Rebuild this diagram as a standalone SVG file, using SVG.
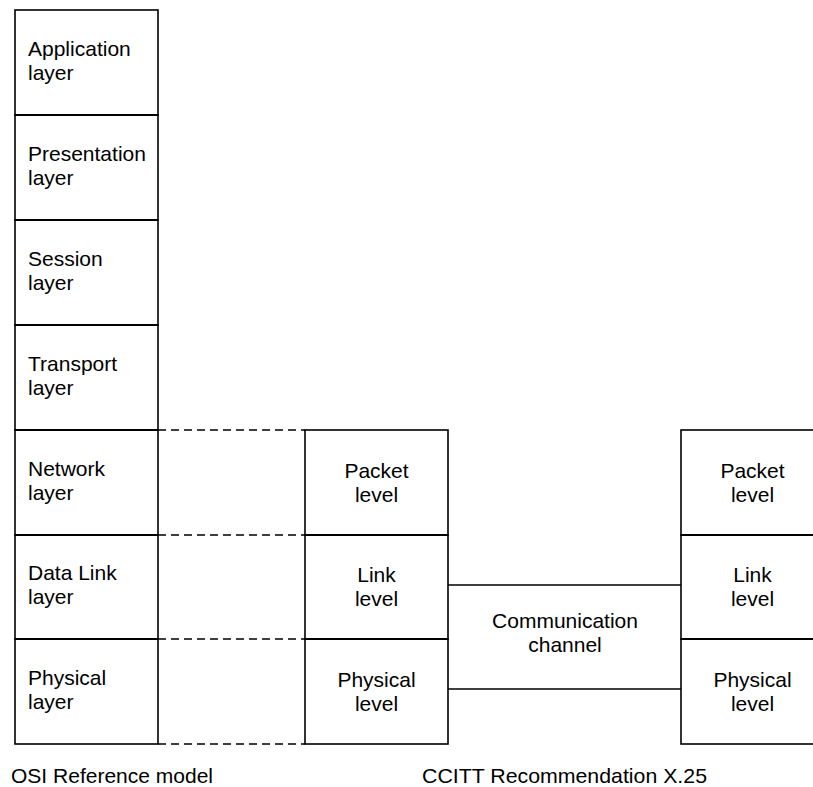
<svg xmlns="http://www.w3.org/2000/svg" width="813" height="787" viewBox="0 0 813 787">
  <style>
    .box { fill: #ffffff; stroke: #000000; stroke-width: 1.6; }
    .div { stroke: #000000; stroke-width: 2; }
    .dash { stroke: #000000; stroke-width: 1.6; stroke-dasharray: 8 5; fill: none; }
    .wire { stroke: #000000; stroke-width: 1.4; fill: none; }
    text { font-family: "Liberation Sans", Arial, sans-serif; font-size: 21px; fill: #000000; }
    .c { text-anchor: middle; }
  </style>
  <rect width="813" height="787" fill="#ffffff"/>

  <!-- connectors: dashed level mapping and channel lines -->
  <g id="connectors">
    <line class="dash" x1="158" y1="430" x2="305" y2="430"/>
    <line class="dash" x1="158" y1="535" x2="305" y2="535"/>
    <line class="dash" x1="158" y1="639" x2="305" y2="639"/>
    <line class="dash" x1="158" y1="744" x2="305" y2="744"/>
    <line class="wire" x1="448" y1="585" x2="681" y2="585"/>
    <line class="wire" x1="448" y1="689" x2="681" y2="689"/>
  </g>

  <!-- OSI reference model stack -->
  <g id="osi-application"><rect class="box" x="15" y="10" width="143" height="105"/>
    <text x="28" y="55.5">Application</text><text x="28" y="79.5">layer</text></g>
  <g id="osi-presentation"><rect class="box" x="15" y="115" width="143" height="105"/>
    <text x="28" y="160.5">Presentation</text><text x="28" y="184.5">layer</text></g>
  <g id="osi-session"><rect class="box" x="15" y="220" width="143" height="105"/>
    <text x="28" y="265.5">Session</text><text x="28" y="289.5">layer</text></g>
  <g id="osi-transport"><rect class="box" x="15" y="325" width="143" height="105"/>
    <text x="28" y="370.5">Transport</text><text x="28" y="394.5">layer</text></g>
  <g id="osi-network"><rect class="box" x="15" y="430" width="143" height="105"/>
    <text x="28" y="475.5">Network</text><text x="28" y="499.5">layer</text></g>
  <g id="osi-datalink"><rect class="box" x="15" y="535" width="143" height="104"/>
    <text x="28" y="580">Data Link</text><text x="28" y="604">layer</text></g>
  <g id="osi-physical"><rect class="box" x="15" y="639" width="143" height="105"/>
    <text x="28" y="684.5">Physical</text><text x="28" y="708.5">layer</text></g>
  <g id="osi-dividers">
    <line class="div" x1="15" y1="115" x2="158" y2="115"/>
    <line class="div" x1="15" y1="220" x2="158" y2="220"/>
    <line class="div" x1="15" y1="325" x2="158" y2="325"/>
    <line class="div" x1="15" y1="430" x2="158" y2="430"/>
    <line class="div" x1="15" y1="535" x2="158" y2="535"/>
    <line class="div" x1="15" y1="639" x2="158" y2="639"/>
  </g>

  <!-- X.25 stack, DTE side -->
  <g id="x25a-packet"><rect class="box" x="305" y="430" width="143" height="105"/>
    <text class="c" x="376.5" y="477.5">Packet</text><text class="c" x="376.5" y="501.5">level</text></g>
  <g id="x25a-link"><rect class="box" x="305" y="535" width="143" height="104"/>
    <text class="c" x="376.5" y="582">Link</text><text class="c" x="376.5" y="606">level</text></g>
  <g id="x25a-physical"><rect class="box" x="305" y="639" width="143" height="105"/>
    <text class="c" x="376.5" y="687">Physical</text><text class="c" x="376.5" y="711">level</text></g>
  <line class="div" x1="305" y1="535" x2="448" y2="535"/>
  <line class="div" x1="305" y1="639" x2="448" y2="639"/>

  <!-- channel label -->
  <g id="channel">
    <text class="c" x="565" y="628">Communication</text><text class="c" x="565" y="652">channel</text>
  </g>

  <!-- X.25 stack, DCE side -->
  <g id="x25b-packet"><rect class="box" x="681" y="430" width="143" height="105"/>
    <text class="c" x="752.5" y="477.5">Packet</text><text class="c" x="752.5" y="501.5">level</text></g>
  <g id="x25b-link"><rect class="box" x="681" y="535" width="143" height="104"/>
    <text class="c" x="752.5" y="582">Link</text><text class="c" x="752.5" y="606">level</text></g>
  <g id="x25b-physical"><rect class="box" x="681" y="639" width="143" height="105"/>
    <text class="c" x="752.5" y="687">Physical</text><text class="c" x="752.5" y="711">level</text></g>
  <line class="div" x1="681" y1="535" x2="813" y2="535"/>
  <line class="div" x1="681" y1="639" x2="813" y2="639"/>

  <!-- captions -->
  <g id="captions">
    <text x="11" y="783" textLength="202" lengthAdjust="spacingAndGlyphs">OSI Reference model</text>
    <text x="422" y="783" textLength="285" lengthAdjust="spacingAndGlyphs">CCITT Recommendation X.25</text>
  </g>
</svg>
